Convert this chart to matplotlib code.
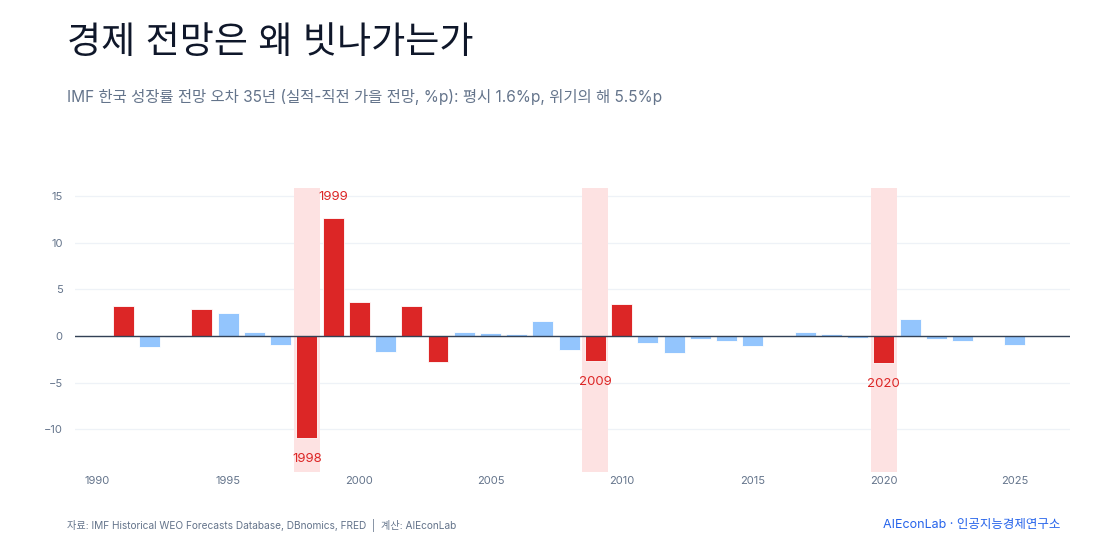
import matplotlib
matplotlib.use("Agg")
import matplotlib.pyplot as plt

plt.rcParams["font.family"] = ["Inter", "Noto Sans CJK KR", "DejaVu Sans"]

# IMF forecast error (actual - previous autumn forecast), %p
years = list(range(1991, 2026))
errors = [3.2, -1.15, -0.1, 2.9, 2.45, 0.43, -1.0, -10.95, 12.6, 3.65,
          -1.75, 3.2, -2.8, 0.43, 0.32, 0.21, 1.6, -1.5, -2.7, 3.45,
          -0.8, -1.82, -0.32, -0.5, -1.05, -0.05, 0.43, 0.18, -0.25, -2.9,
          1.82, -0.38, -0.5, 0.0, -0.97]
crisis_years = [1998, 2009, 2020]
labeled_years = [1998, 1999, 2009, 2020]
big_miss = 2.5

title = "경제 전망은 왜 빗나가는가"
subtitle = "IMF 한국 성장률 전망 오차 35년 (실적-직전 가을 전망, %p): 평시 1.6%p, 위기의 해 5.5%p"
source = "자료: IMF Historical WEO Forecasts Database, DBnomics, FRED  |  계산: AIEconLab"
brand = "AIEconLab · 인공지능경제연구소"

RED = "#dc2626"
BLUE = "#93c5fd"
SHADE = "#fde2e2"
TICK = "#64748b"

fig = plt.figure(figsize=(11.1, 5.55), dpi=100)
ax = fig.add_axes([0.0676, 0.1495, 0.8964, 0.5115])

colors = [RED if abs(e) > big_miss else BLUE for e in errors]
ax.bar(years, errors, width=0.8, color=colors, edgecolor="white", linewidth=0.6, zorder=3)

for y in crisis_years:
    ax.axvspan(y - 0.5, y + 0.5, color=SHADE, lw=0, zorder=1)

ax.axhline(0, color="#334155", lw=1.0, zorder=4)

for y in labeled_years:
    v = errors[years.index(y)]
    off = 2.25 if v > 0 else -2.25
    ax.text(y, v + off, str(y), ha="center", va="center", color=RED,
            fontsize=9.5, zorder=5)

ax.set_xlim(1989.16, 2027.1)
ax.set_ylim(-14.6, 15.85)
ax.set_xticks(range(1990, 2026, 5))
ax.set_yticks([-10, -5, 0, 5, 10, 15])
ax.grid(axis="y", color="#eef2f7", lw=0.9, zorder=0)
ax.set_axisbelow(True)
for s in ax.spines.values():
    s.set_visible(False)
ax.tick_params(axis="both", length=0, labelsize=8, labelcolor=TICK)
ax.tick_params(axis="x", pad=3)
ax.tick_params(axis="y", pad=9)

fig.text(0.06, 0.922, title, fontsize=26.7, color="#0f172a", va="center")
fig.text(0.06, 0.826, subtitle, fontsize=11.1, color=TICK, va="center")
fig.text(0.06, 0.054, source, fontsize=7.3, color=TICK, va="center")
fig.text(0.955, 0.054, brand, fontsize=9, color="#2563eb", va="center", ha="right")

fig.savefig("out.png", dpi=100)
